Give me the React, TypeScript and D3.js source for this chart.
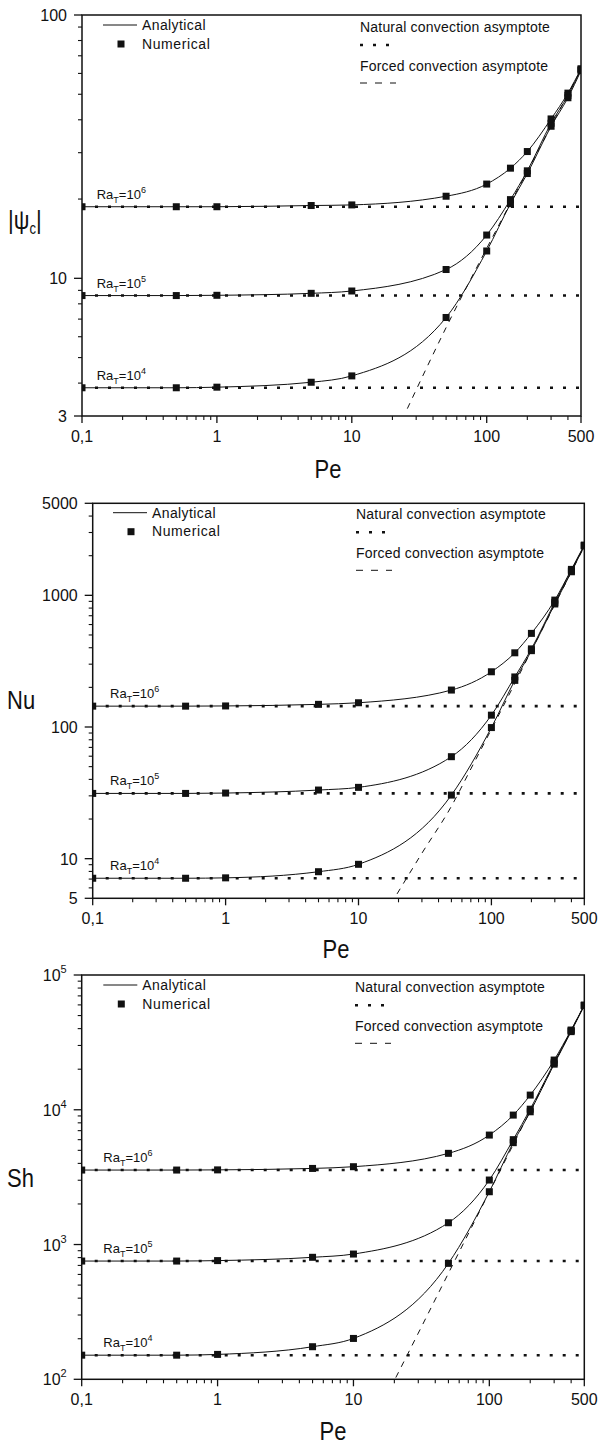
import React from "react";
import * as d3 from "d3";

const FONT = "'Liberation Sans', Arial, Helvetica, sans-serif";

// Péclet numbers of the numerical runs
const peNumerical = [0.1, 0.5, 1, 5, 10, 50, 100, 150, 200, 300, 400, 500];

// |ψc| for RaT = 1e6, 1e5, 1e4
const psiRa1e6 = [18.7, 18.7, 18.7, 18.9, 19.0, 20.5, 22.8, 26.2, 30.3, 40.3, 50.5, 62.5];
const psiRa1e5 = [8.6, 8.6, 8.62, 8.77, 8.95, 10.8, 14.6, 19.9, 25.6, 38.8, 49.5, 62];
const psiRa1e4 = [3.84, 3.84, 3.86, 4.03, 4.26, 7.1, 12.7, 19.2, 25.0, 37.8, 48.5, 61.5];
const psiNatural = [18.7, 8.6, 3.84];
const peForcedPsi = [25.8, 50, 100, 200, 500];
const psiForced = [3.2, 6.5, 13, 25.5, 62];

// Nu for RaT = 1e6, 1e5, 1e4
const nuRa1e6 = [144, 144, 144.5, 148.6, 152.8, 190.8, 262.7, 366, 514, 920, 1574, 2408];
const nuRa1e5 = [31.3, 31.3, 31.5, 33.2, 34.8, 59.5, 123, 240, 392, 885, 1540, 2390];
const nuRa1e4 = [7.1, 7.1, 7.15, 7.96, 9.06, 30.4, 99, 226, 380, 860, 1510, 2370];
const nuNatural = [144, 31.3, 7.1];
const peForcedNu = [19.5, 30, 50, 70, 100, 200, 500];
const nuForced = [5.4, 11, 25, 48, 96, 380, 2350];

// Sh for RaT = 1e6, 1e5, 1e4
const shRa1e6 = [3570, 3570, 3580, 3670, 3780, 4750, 6490, 9130, 12850, 23380, 39050, 59800];
const shRa1e5 = [754, 754, 760, 804, 850, 1451, 3010, 6000, 10100, 22300, 38600, 59500];
const shRa1e4 = [151, 151, 153, 174.5, 201, 725, 2465, 5700, 9660, 21800, 38000, 59300];
const shNatural = [3570, 754, 151];
const peForcedSh = [20.5, 30, 50, 100, 200, 500];
const shForced = [103, 220, 612, 2450, 9800, 60000];

const raExponents = ["6", "5", "4"];

const xMajor = [0.1, 1, 10, 100, 500];
const xMajorLabels = ["0,1", "1", "10", "100", "500"];

type YLabel = { v: number; base: string; exp?: string };

type PanelSpec = {
  id: string;
  left: number;
  right: number;
  top: number;
  bottom: number;
  yDomain: [number, number];
  yLabels: YLabel[];
  curves: number[][];
  natural: number[];
  forcedPe: number[];
  forced: number[];
  raDx: number;
  legendLeft: [number, number];
  legendRight: [number, number];
  title: "psi" | "Nu" | "Sh";
  titlePos: [number, number];
  peTitle: [number, number];
};

const panels: PanelSpec[] = [
  {
    id: "psi",
    left: 82,
    right: 581,
    top: 15,
    bottom: 416,
    yDomain: [3, 100],
    yLabels: [
      { v: 3, base: "3" },
      { v: 10, base: "10" },
      { v: 100, base: "100" },
    ],
    curves: [psiRa1e6, psiRa1e5, psiRa1e4],
    natural: psiNatural,
    forcedPe: peForcedPsi,
    forced: psiForced,
    raDx: 14.7,
    legendLeft: [103, 25],
    legendRight: [360, 32],
    title: "psi",
    titlePos: [8, 229],
    peTitle: [328, 478],
  },
  {
    id: "nu",
    left: 92.7,
    right: 584.3,
    top: 503.3,
    bottom: 898.3,
    yDomain: [5, 5000],
    yLabels: [
      { v: 5, base: "5" },
      { v: 10, base: "10" },
      { v: 100, base: "100" },
      { v: 1000, base: "1000" },
      { v: 5000, base: "5000" },
    ],
    curves: [nuRa1e6, nuRa1e5, nuRa1e4],
    natural: nuNatural,
    forcedPe: peForcedNu,
    forced: nuForced,
    raDx: 17.3,
    legendLeft: [113, 512.7],
    legendRight: [356, 519.3],
    title: "Nu",
    titlePos: [7, 709],
    peTitle: [336, 958],
  },
  {
    id: "sh",
    left: 81.7,
    right: 584.3,
    top: 975,
    bottom: 1379.3,
    yDomain: [100, 100000],
    yLabels: [
      { v: 100, base: "10", exp: "2" },
      { v: 1000, base: "10", exp: "3" },
      { v: 10000, base: "10", exp: "4" },
      { v: 100000, base: "10", exp: "5" },
    ],
    curves: [shRa1e6, shRa1e5, shRa1e4],
    natural: shNatural,
    forcedPe: peForcedSh,
    forced: shForced,
    raDx: 21.6,
    legendLeft: [103.3, 985],
    legendRight: [355, 992.3],
    title: "Sh",
    titlePos: [7, 1187],
    peTitle: [333, 1440],
  },
];

const INK = "#111";

function Panel({ p }: { p: PanelSpec }) {
  const x = d3.scaleLog().domain([0.1, 500]).range([p.left, p.right]);
  const y = d3.scaleLog().domain(p.yDomain).range([p.bottom, p.top]);
  const line = d3
    .line<[number, number]>()
    .x((d) => x(d[0]))
    .y((d) => y(d[1]))
    .curve(d3.curveMonotoneX);

  const xMinor = x.ticks().filter((t) => !xMajor.some((m) => Math.abs(m - t) / m < 1e-6));
  const yMajorVals = p.yLabels.map((l) => l.v);
  const yMinor = y.ticks().filter((t) => !yMajorVals.some((m) => Math.abs(m - t) / m < 1e-6));
  const clipId = `clip-${p.id}`;

  const [lx, ly] = p.legendLeft;
  const [rx, ry] = p.legendRight;

  return (
    <g>
      <defs>
        <clipPath id={clipId}>
          <rect x={p.left} y={p.top} width={p.right - p.left} height={p.bottom - p.top} />
        </clipPath>
      </defs>

      {/* frame */}
      <rect
        x={p.left}
        y={p.top}
        width={p.right - p.left}
        height={p.bottom - p.top}
        fill="none"
        stroke={INK}
        strokeWidth={1.5}
      />

      {/* x ticks */}
      {xMajor.map((t, i) => (
        <g key={`xm${i}`}>
          <line x1={x(t)} x2={x(t)} y1={p.bottom} y2={p.bottom + 7} stroke={INK} strokeWidth={1.3} />
          <text
            x={x(t)}
            y={p.bottom + 26}
            textAnchor="middle"
            fontSize={16}
            fontFamily={FONT}
            fill={INK}
          >
            {xMajorLabels[i]}
          </text>
        </g>
      ))}
      {xMinor.map((t, i) => (
        <line key={`xn${i}`} x1={x(t)} x2={x(t)} y1={p.bottom} y2={p.bottom + 4} stroke={INK} strokeWidth={1.1} />
      ))}

      {/* y ticks */}
      {p.yLabels.map((l, i) => (
        <g key={`ym${i}`}>
          <line x1={p.left - 8} x2={p.left} y1={y(l.v)} y2={y(l.v)} stroke={INK} strokeWidth={1.3} />
          <text
            x={p.left - 15}
            y={y(l.v) + 6}
            textAnchor="end"
            fontSize={16}
            fontFamily={FONT}
            fill={INK}
          >
            {l.base}
            {l.exp ? (
              <tspan fontSize={11} dy={-8}>
                {l.exp}
              </tspan>
            ) : null}
          </text>
        </g>
      ))}
      {yMinor.map((t, i) => (
        <line key={`yn${i}`} x1={p.left - 4} x2={p.left} y1={y(t)} y2={y(t)} stroke={INK} strokeWidth={1.1} />
      ))}

      <g clipPath={`url(#${clipId})`}>
        {/* natural convection asymptotes */}
        {p.natural.map((n, i) => (
          <path
            key={`nat${i}`}
            d={line([
              [0.1, n],
              [500, n],
            ]) || ""}
            fill="none"
            stroke={INK}
            strokeWidth={2.6}
            strokeDasharray="3 10"
          />
        ))}

        {/* forced convection asymptote */}
        <path
          d={line(p.forcedPe.map((pe, i) => [pe, p.forced[i]] as [number, number])) || ""}
          fill="none"
          stroke={INK}
          strokeWidth={1}
          strokeDasharray="6 6"
        />

        {/* analytical curves */}
        {p.curves.map((c, k) => (
          <path
            key={`an${k}`}
            d={line(peNumerical.map((pe, i) => [pe, c[i]] as [number, number])) || ""}
            fill="none"
            stroke={INK}
            strokeWidth={1}
          />
        ))}

        {/* numerical results */}
        {p.curves.map((c, k) =>
          peNumerical.map((pe, i) => (
            <rect
              key={`pt${k}-${i}`}
              x={x(pe) - 3.5}
              y={y(c[i]) - 3.5}
              width={7}
              height={7}
              fill={INK}
            />
          ))
        )}
      </g>

      {/* RaT labels */}
      {p.natural.map((n, i) => (
        <text
          key={`ra${i}`}
          x={p.left + p.raDx}
          y={y(n) - 8}
          fontSize={13}
          fontFamily={FONT}
          fill={INK}
        >
          Ra
          <tspan fontSize={9} dy={4}>
            T
          </tspan>
          <tspan dy={-4}>=10</tspan>
          <tspan fontSize={9} dy={-6}>
            {raExponents[i]}
          </tspan>
        </text>
      ))}

      {/* legend: analytical / numerical */}
      <line x1={lx} x2={lx + 34} y1={ly} y2={ly} stroke={INK} strokeWidth={1} />
      <text x={lx + 39} y={ly + 5} fontSize={14} fontFamily={FONT} fill={INK} letterSpacing={0.4}>
        Analytical
      </text>
      <rect x={lx + 18 - 3.5} y={ly + 19 - 3.5} width={7} height={7} fill={INK} />
      <text x={lx + 39} y={ly + 23.5} fontSize={14} fontFamily={FONT} fill={INK} letterSpacing={0.6}>
        Numerical
      </text>

      {/* legend: asymptotes */}
      <text x={rx} y={ry} fontSize={14} fontFamily={FONT} fill={INK} letterSpacing={0.2}>
        Natural convection asymptote
      </text>
      <line
        x1={rx}
        x2={rx + 29}
        y1={ry + 13}
        y2={ry + 13}
        stroke={INK}
        strokeWidth={2.4}
        strokeDasharray="3 10"
      />
      <text x={rx} y={ry + 38.5} fontSize={14} fontFamily={FONT} fill={INK} letterSpacing={0.2}>
        Forced convection asymptote
      </text>
      <line
        x1={rx}
        x2={rx + 36}
        y1={ry + 51}
        y2={ry + 51}
        stroke={INK}
        strokeWidth={1}
        strokeDasharray="7 8"
      />

      {/* axis titles */}
      <text
        transform={`translate(${p.peTitle[0]},${p.peTitle[1]}) scale(1,1.2)`}
        textAnchor="middle"
        fontSize={22}
        fontFamily={FONT}
        fill={INK}
      >
        Pe
      </text>
      {p.title === "psi" ? (
        <text
          transform={`translate(${p.titlePos[0]},${p.titlePos[1]}) scale(1,1.2)`}
          fontSize={22}
          fontFamily={FONT}
          fill={INK}
        >
          |ψ
          <tspan fontSize={13} dy={4}>
            c
          </tspan>
          <tspan dy={-4}>|</tspan>
        </text>
      ) : (
        <text
          transform={`translate(${p.titlePos[0]},${p.titlePos[1]}) scale(1,1.2)`}
          fontSize={22}
          fontFamily={FONT}
          fill={INK}
        >
          {p.title}
        </text>
      )}
    </g>
  );
}

export default function App() {
  return (
    <svg
      width={599}
      height={1444}
      viewBox="0 0 599 1444"
      style={{ position: "absolute", left: 0, top: 0, background: "#fff" }}
    >
      <rect x={0} y={0} width={599} height={1444} fill="#fff" />
      {panels.map((p) => (
        <Panel key={p.id} p={p} />
      ))}
    </svg>
  );
}
